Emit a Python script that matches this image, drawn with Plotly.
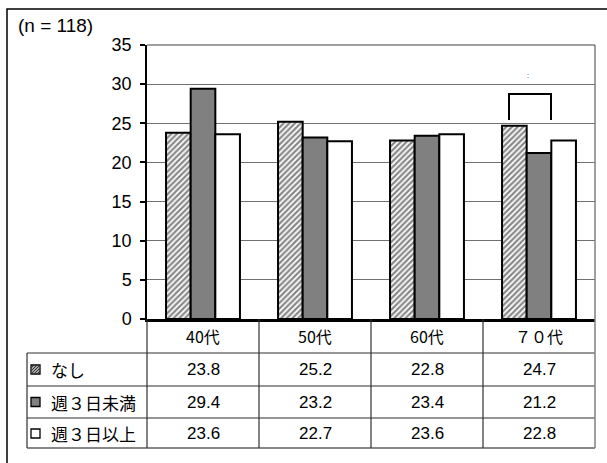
import plotly.graph_objects as go

categories = ["40代", "50代", "60代", "７０代"]
series_names = ["なし", "週３日未満", "週３日以上"]
nashi = [23.8, 25.2, 22.8, 24.7]
under3 = [29.4, 23.2, 23.4, 21.2]
over3 = [23.6, 22.7, 23.6, 22.8]
y_ticks = [0, 5, 10, 15, 20, 25, 30, 35]
n_label = "(n = 118)"

W_FIG, H_FIG = 607, 463
L, R, T, B = 147, 595, 45, 319
PW, PH = R - L, B - T


def px(x):
    return (x - L) / PW


def py(y):
    return (B - y) / PH


FONT = "Liberation Sans, Arial, Noto Sans CJK JP"
CJK = "Noto Sans CJK JP, Liberation Sans"

fig = go.Figure()
fig.add_trace(go.Bar(
    x=categories, y=nashi, name=series_names[0],
    marker=dict(color="white", line=dict(color="black", width=2),
                pattern=dict(shape="/", fgcolor="#111111", bgcolor="white", size=4, solidity=0.55)),
))
fig.add_trace(go.Bar(
    x=categories, y=under3, name=series_names[1],
    marker=dict(color="#808080", line=dict(color="black", width=2)),
))
fig.add_trace(go.Bar(
    x=categories, y=over3, name=series_names[2],
    marker=dict(color="white", line=dict(color="black", width=2)),
))

shapes = []
line_col = "#303030"
# table horizontal lines
for yy in [353, 386, 418]:
    shapes.append(dict(type="line", xref="paper", yref="paper", x0=px(27), x1=px(R), y0=py(yy), y1=py(yy),
                       line=dict(color=line_col, width=1.2)))
shapes.append(dict(type="line", xref="paper", yref="paper", x0=px(27), x1=px(R), y0=py(448), y1=py(448),
                   line=dict(color="#606060", width=1.5)))
# table verticals
shapes.append(dict(type="line", xref="paper", yref="paper", x0=px(27), x1=px(27), y0=py(353), y1=py(448),
                   line=dict(color=line_col, width=1.2)))
shapes.append(dict(type="line", xref="paper", yref="paper", x0=0, x1=0, y0=py(448), y1=py(319),
                   line=dict(color=line_col, width=1.2)))
for i in range(1, len(categories)):
    xx = i / len(categories)
    shapes.append(dict(type="line", xref="paper", yref="paper", x0=xx, x1=xx, y0=py(448), y1=py(319),
                       line=dict(color=line_col, width=1.2)))
# right edge of plot + table, top of plot
shapes.append(dict(type="line", xref="paper", yref="paper", x0=1, x1=1, y0=py(448), y1=1,
                   line=dict(color="#808080", width=1.5)))
shapes.append(dict(type="line", xref="paper", yref="paper", x0=0, x1=1, y0=1, y1=1,
                   line=dict(color="#404040", width=1.2)))
# outer chart frame (extends beyond the window)
shapes.append(dict(type="rect", xref="paper", yref="paper", x0=px(7), x1=px(640), y0=py(500), y1=py(9),
                   line=dict(color="black", width=1.5), fillcolor="rgba(0,0,0,0)"))
# legend keys in table
key_rows = [369.5, 402, 433.5]
kx0, kx1 = 31, 40
for k, yc in enumerate(key_rows):
    fill = ["white", "#808080", "white"][k]
    shapes.append(dict(type="rect", xref="paper", yref="paper", x0=px(kx0), x1=px(kx1),
                       y0=py(yc + 4.5), y1=py(yc - 4.5), fillcolor=fill,
                       line=dict(color="black", width=1.3)))
    if k == 0:
        for d in [0, 3, 6]:
            shapes.append(dict(type="line", xref="paper", yref="paper",
                               x0=px(kx0 + d), y0=py(yc + 4.5), x1=px(kx1), y1=py(yc - 4.5 + d),
                               line=dict(color="#333333", width=1.2)))
            if d:
                shapes.append(dict(type="line", xref="paper", yref="paper",
                                   x0=px(kx0), y0=py(yc + 4.5 - d), x1=px(kx1 - d), y1=py(yc - 4.5),
                                   line=dict(color="#333333", width=1.2)))
# significance bracket (70代)
shapes.append(dict(type="path", xref="paper", yref="paper",
                   path=f"M {px(509)},{py(120)} L {px(509)},{py(94)} L {px(551)},{py(94)} L {px(551)},{py(120)}",
                   line=dict(color="black", width=2)))

annotations = []
annotations.append(dict(text=n_label, xref="paper", yref="paper", x=px(16), y=py(25), xanchor="left",
                        yanchor="middle", showarrow=False, font=dict(family=FONT, size=19, color="black")))
annotations.append(dict(text=":", xref="paper", yref="paper", x=px(528), y=py(75), xanchor="center",
                        yanchor="middle", showarrow=False, font=dict(family=FONT, size=7, color="black")))
for c in categories:
    annotations.append(dict(text=c, xref="x", yref="paper", x=c, y=py(336), xanchor="center", yanchor="middle",
                            showarrow=False, font=dict(family=CJK, size=16, color="black")))
for k, (name, vals) in enumerate(zip(series_names, [nashi, under3, over3])):
    yc = key_rows[k]
    annotations.append(dict(text=name, xref="paper", yref="paper", x=px(49), y=py(yc), xanchor="left",
                            yanchor="middle", showarrow=False, font=dict(family=CJK, size=17, color="black")))
    for c, v in zip(categories, vals):
        annotations.append(dict(text=f"{v:.1f}", xref="x", yref="paper", x=c, y=py(yc), xanchor="center",
                                yanchor="middle", showarrow=False, font=dict(family=FONT, size=17, color="black")))

fig.update_layout(
    width=W_FIG, height=H_FIG,
    margin=dict(l=L, r=W_FIG - R, t=T, b=H_FIG - B, pad=0),
    paper_bgcolor="white", plot_bgcolor="white",
    barmode="group", bargap=0.34, bargroupgap=0,
    showlegend=False,
    shapes=shapes, annotations=annotations,
    font=dict(family=FONT, size=17, color="black"),
    xaxis=dict(showticklabels=False, showline=True, linecolor="black", linewidth=2.5,
               ticks="", showgrid=False, fixedrange=True),
    yaxis=dict(range=[0, 35], tickvals=y_ticks, showgrid=True, gridcolor="#707070", gridwidth=1,
               showline=True, linecolor="black", linewidth=1.5, ticks="outside", ticklen=5,
               tickwidth=1.5, tickcolor="black", zeroline=False, ticklabelstandoff=5,
               tickfont=dict(family=FONT, size=18, color="black")),
)

fig.write_html("out.html")
